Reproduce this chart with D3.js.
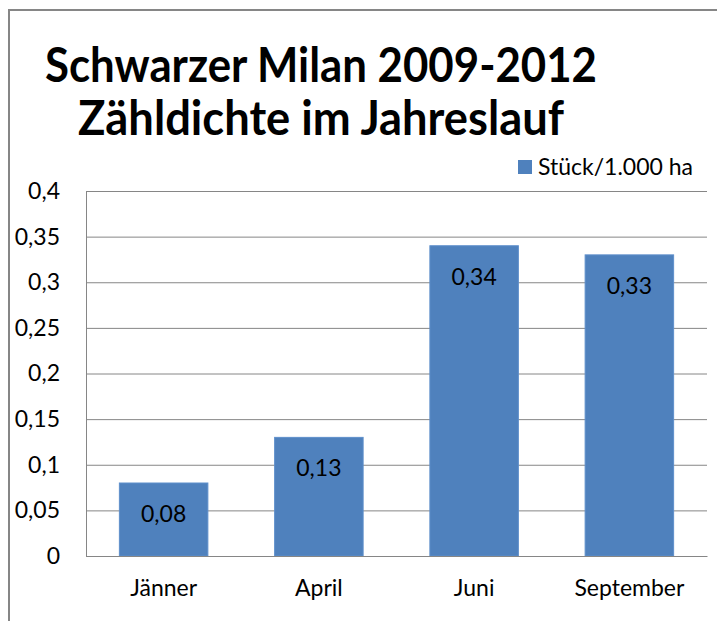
<!DOCTYPE html>
<html>
<head>
    <meta charset="utf-8">
    <script src="https://cdn.jsdelivr.net/npm/d3@7"></script>
    <style>
        body {
            margin: 0;
            background: white;
            font-family: Lato, "Open Sans", sans-serif;
        }
    </style>
</head>
<body>
<svg id="chart"></svg>
<script>
    // data
    let months = ["Jänner", "April", "Juni", "September"];
    let values = [0.08, 0.13, 0.34, 0.33];
    let yTicks = [0, 0.05, 0.1, 0.15, 0.2, 0.25, 0.3, 0.35, 0.4];
    let seriesName = "Stück/1.000 ha";
    let titleLines = ["Schwarzer Milan 2009-2012", "Zähldichte im Jahreslauf"];

    let width = 717, height = 621;
    let margin = { top: 191, left: 86, right: 10, bottom: 65 };
    let bodyWidth = width - margin.left - margin.right;
    let bodyHeight = height - margin.top - margin.bottom;
    let fmt = d => String(d).replace(".", ",");

    let svg = d3.select("#chart")
        .attr("width", width)
        .attr("height", height);

    // outer frame (chart is cut off on the right and bottom)
    svg.append("path")
        .attr("d", `M9,${height} V10 H${width}`)
        .attr("fill", "none")
        .attr("stroke", "#868686")
        .attr("stroke-width", 2);

    // title
    let titleWidths = [552, 486];
    let titleBase = [82, 135];
    svg.selectAll(".title")
        .data(titleLines)
        .enter().append("text")
        .attr("class", "title")
        .attr("x", 321)
        .attr("y", (d, i) => titleBase[i])
        .attr("text-anchor", "middle")
        .attr("textLength", (d, i) => titleWidths[i])
        .attr("lengthAdjust", "spacingAndGlyphs")
        .style("font-weight", "bold")
        .style("font-size", "47px")
        .text(d => d);

    let xScale = d3.scaleBand()
        .domain(months)
        .range([0, bodyWidth])
        .paddingInner(0.43)
        .paddingOuter(0.215);

    let yScale = d3.scaleLinear()
        .domain([0, 0.4])
        .range([bodyHeight, 0]);

    let body = svg.append("g")
        .attr("transform", `translate(${margin.left},${margin.top})`);

    // gridlines + y labels
    let yAxis = d3.axisLeft(yScale)
        .tickValues(yTicks)
        .tickSize(-bodyWidth)
        .tickPadding(26)
        .tickFormat(fmt);
    let ya = body.append("g").call(yAxis);
    ya.select(".domain").attr("stroke", "#868686");
    ya.selectAll(".tick line").attr("stroke", "#868686");
    ya.selectAll(".tick text")
        .style("font-family", "Lato, sans-serif")
        .style("font-size", "23px")
        .attr("fill", "#000");

    // bars
    body.selectAll(".bar")
        .data(values)
        .enter().append("rect")
        .attr("class", "bar")
        .attr("x", (d, i) => xScale(months[i]))
        .attr("y", d => yScale(d))
        .attr("width", xScale.bandwidth())
        .attr("height", d => bodyHeight - yScale(d))
        .attr("fill", "#4F81BD")
        .attr("stroke", "#5E8FCB")
        .attr("stroke-width", 1);

    // value labels inside the bars
    body.selectAll(".val")
        .data(values)
        .enter().append("text")
        .attr("class", "val")
        .attr("x", (d, i) => xScale(months[i]) + xScale.bandwidth() / 2)
        .attr("y", d => yScale(d) + 39)
        .attr("text-anchor", "middle")
        .style("font-size", "23px")
        .text(fmt);

    // x axis line + category labels
    let xAxis = d3.axisBottom(xScale).tickSize(0).tickPadding(24);
    let xa = body.append("g")
        .attr("transform", `translate(0,${bodyHeight})`)
        .call(xAxis);
    xa.select(".domain").attr("stroke", "#868686");
    xa.selectAll(".tick text")
        .style("font-family", "Lato, sans-serif")
        .style("font-size", "23px")
        .attr("fill", "#000");

    // legend
    let legend = svg.append("g").attr("transform", "translate(518,160)");
    legend.append("rect")
        .attr("width", 14)
        .attr("height", 14)
        .attr("fill", "#4F81BD");
    legend.append("text")
        .attr("x", 20)
        .attr("y", 15)
        .style("font-size", "23px")
        .text(seriesName);
</script>
</body>
</html>
